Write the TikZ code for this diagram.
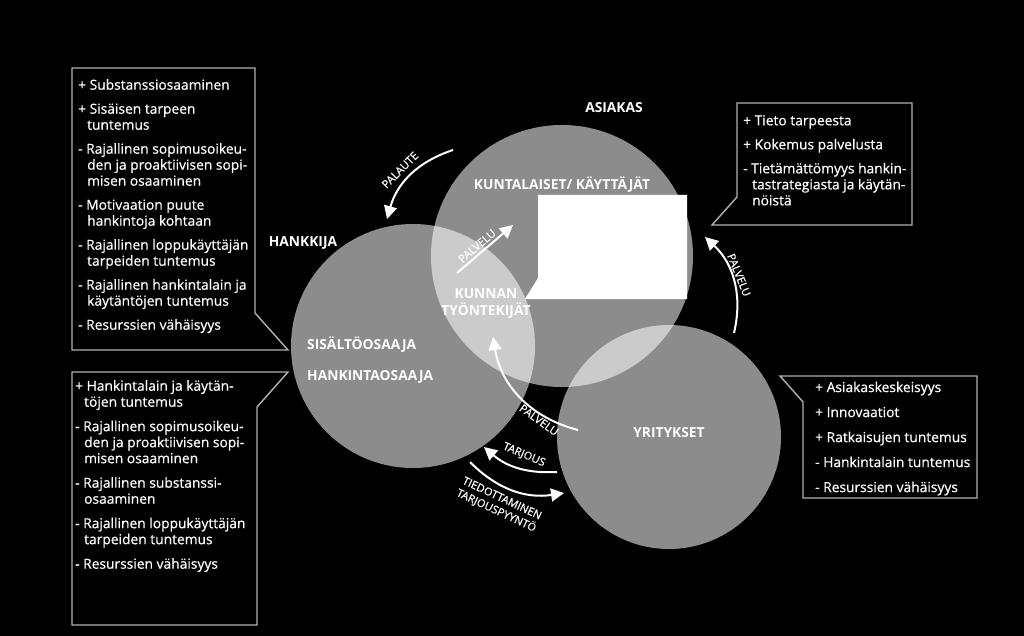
\documentclass[tikz,border=0pt]{standalone}
\usepackage{fontspec}
\setmainfont{Open Sans}
\newfontfamily\teksti{Open Sans}[FakeBold=0.6]
\usetikzlibrary{arrows.meta}
\newcommand{\sisennys}{\hspace*{9pt}}
\tikzset{
  piiri/.style={circle,fill=white,fill opacity=0.55,inner sep=0pt},
  laatikko/.style={draw=gray!60,line width=1.4pt,fill=black,line join=miter},
  lista/.style={anchor=north west,align=left,inner sep=0pt,text=white,
    font=\teksti\fontsize{13.8}{16}\selectfont},
  otsikko/.style={text=white,inner sep=0pt,font=\bfseries\fontsize{13.8}{17}\selectfont},
  nuoli/.style={draw=white,line width=2pt,-{Triangle[length=13pt,width=13pt]}},
  nuoliteksti/.style={text=white,inner sep=1pt,font=\teksti\fontsize{11}{13.5}\selectfont}
}
\begin{document}
\begin{tikzpicture}[x=1pt,y=-1pt]

% tausta
\fill[black] (0,0) rectangle (1024,636);
\useasboundingbox (0,0) rectangle (1024,636);

% piirit
\node[piiri,minimum size=262pt] (asiakas) at (562,256) {};
\node[piiri,minimum size=244pt] (hankkija) at (413,346) {};
\node[piiri,minimum size=224pt] (yritykset) at (669,437) {};

% puhekupla
\fill[white] (538,195) -- (687,195) -- (687,299) -- (525,299) -- (538,278) -- cycle;

% tekstilaatikot
\draw[laatikko] (72,68) -- (255,68) -- (255,313) -- (288,350) -- (72,350) -- cycle;
\draw[laatikko] (72,372) -- (288,372) -- (257,407) -- (257,625) -- (72,625) -- cycle;
\draw[laatikko] (737,103) -- (912,103) -- (912,225) -- (712,225) -- (737,197) -- cycle;
\draw[laatikko] (780,376) -- (977,376) -- (977,498) -- (803,498) -- (803,402) -- cycle;

\node[lista] (hankkija-vahvuudet) at (78,79)
  {+ Substanssiosaaminen\\[8pt]
   + Sisäisen tarpeen\\\sisennys tuntemus\\[8pt]
   - Rajallinen sopimusoikeu-\\\sisennys den ja proaktiivisen sopi-\\\sisennys misen osaaminen\\[8pt]
   - Motivaation puute\\\sisennys hankintoja kohtaan\\[8pt]
   - Rajallinen loppukäyttäjän\\\sisennys tarpeiden tuntemus\\[8pt]
   - Rajallinen hankintalain ja\\\sisennys käytäntöjen tuntemus\\[8pt]
   - Resurssien vähäisyys};
\node[lista] (hankinta-vahvuudet) at (75,380)
  {+ Hankintalain ja käytän-\\\sisennys töjen tuntemus\\[8.5pt]
   - Rajallinen sopimusoikeu-\\\sisennys den ja proaktiivisen sopi-\\\sisennys misen osaaminen\\[8.5pt]
   - Rajallinen substanssi-\\\sisennys osaaminen\\[8.5pt]
   - Rajallinen loppukäyttäjän\\\sisennys tarpeiden tuntemus\\[8.5pt]
   - Resurssien vähäisyys};
\node[lista] (asiakas-vahvuudet) at (743,115)
  {+ Tieto tarpeesta\\[8pt]
   + Kokemus palvelusta\\[8pt]
   - Tietämättömyys hankin-\\\sisennys tastrategiasta ja käytän-\\\sisennys nöistä};
\node[lista] (yritys-vahvuudet) at (815,381.4)
  {+ Asiakaskeskeisyys\\[9pt]
   + Innovaatiot\\[9pt]
   + Ratkaisujen tuntemus\\[9pt]
   - Hankintalain tuntemus\\[9pt]
   - Resurssien vähäisyys};

% nuolet
\coordinate (palaute-a) at (453,150);
\coordinate (palaute-b) at (387,219);
\coordinate (palvelu1-a) at (457,273);
\coordinate (palvelu1-b) at (513,225);
\coordinate (palvelu2-a) at (578,430);
\coordinate (palvelu2-b) at (493,337);
\coordinate (tarjous-a) at (557,472);
\coordinate (tarjous-b) at (484,447);
\coordinate (tiedotus-a) at (470,462);
\coordinate (tiedotus-b) at (564,493);
\coordinate (palvelu3-a) at (734,333);
\coordinate (palvelu3-b) at (705,237);

\draw[nuoli] (palaute-a) to[bend right=28] (palaute-b);
\draw[nuoli] (palvelu1-a) -- (palvelu1-b);
\draw[nuoli] (palvelu2-a) to[bend left=33] (palvelu2-b);
\draw[nuoli] (tarjous-a) to[bend left=22] (tarjous-b);
\draw[nuoli] (tiedotus-a) to[bend right=27] (tiedotus-b);
\draw[nuoli] (palvelu3-a) to[bend right=30] (palvelu3-b);

\node[nuoliteksti,rotate=45] (palaute-teksti) at (400,170) {PALAUTE};
\node[nuoliteksti,rotate=40] (palvelu1-teksti) at (477,246) {PALVELU};
\node[nuoliteksti,rotate=-36] (palvelu2-teksti) at (539,420) {PALVELU};
\node[nuoliteksti,rotate=-23] (tarjous-teksti) at (524,455) {TARJOUS};
\node[nuoliteksti,rotate=-25,align=center] (tiedotus-teksti) at (499,505)
  {TIEDOTTAMINEN\\TARJOUSPYYNTÖ};
\node[nuoliteksti,rotate=-68] (palvelu3-teksti) at (739,275) {PALVELU};

% otsikot
\node[otsikko] (asiakas-otsikko) at (614,108) {ASIAKAS};
\node[otsikko] (kuntalaiset) at (562,185) {KUNTALAISET/ KÄYTTÄJÄT};
\node[otsikko,align=center] (kunnan) at (486,303.5) {KUNNAN\\TYÖNTEKIJÄT};
\node[otsikko] (hankkija-otsikko) at (303,243) {HANKKIJA};
\node[otsikko,anchor=west] (sisalto) at (307,345) {SISÄLTÖOSAAJA};
\node[otsikko,anchor=west] (hankinta) at (307,377) {HANKINTAOSAAJA};
\node[otsikko] (yritykset-otsikko) at (669,433) {YRITYKSET};

\end{tikzpicture}
\end{document}
